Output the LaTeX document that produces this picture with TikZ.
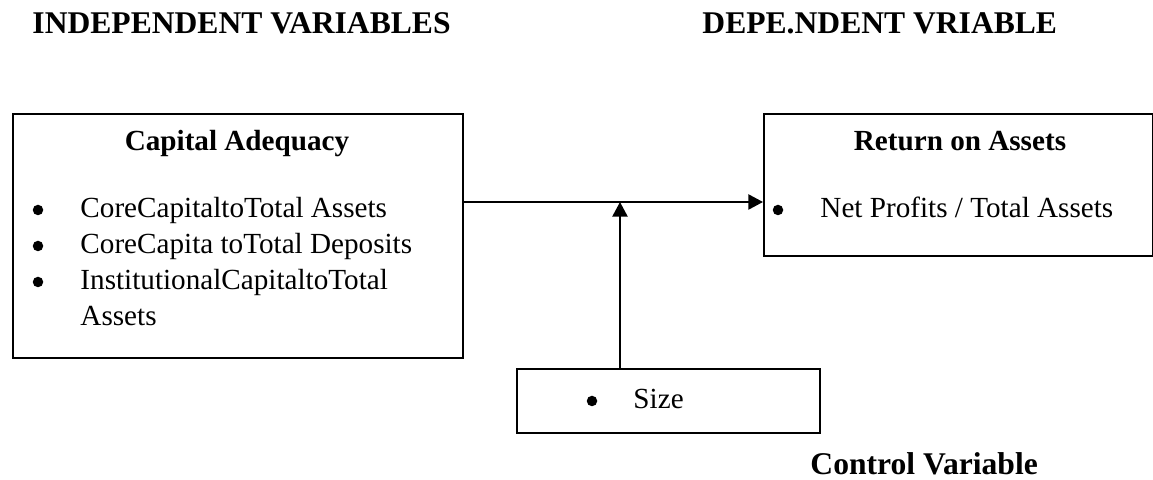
\documentclass[tikz,border=0pt]{standalone}
\usepackage{fontspec}
\setmainfont{Liberation Serif}
\usetikzlibrary{arrows.meta}
\newcommand{\pxu}{0.4115pt}
\tikzset{
  varbox/.style={draw, line width=0.8pt, inner sep=0pt, anchor=north west},
  head/.style={font=\fontsize{13}{15}\selectfont\bfseries, anchor=base west, inner sep=0pt},
  boxtitle/.style={font=\fontsize{12}{14}\selectfont\bfseries, anchor=base, inner sep=0pt},
  item/.style={font=\fontsize{12}{14}\selectfont, anchor=base west, inner sep=0pt},
  dot/.style={circle, fill, inner sep=0pt, minimum size=10.5*\pxu},
  link/.style={line width=0.8pt, -{Triangle[length=6pt, width=6.2pt]}}
}
\begin{document}
\begin{tikzpicture}[x=\pxu, y=-\pxu]
  \useasboundingbox (0,0) rectangle (1153,480);
  % headings
  \node[head] (indep) at (32,34) {INDEPENDENT VARIABLES};
  \node[head] (dep) at (702,34) {DEPE.NDENT VRIABLE};
  \node[head] (ctrl) at (810,475) {Control Variable};
  % boxes
  \node[varbox, minimum width=450*\pxu, minimum height=244*\pxu] (cap) at (12,113) {};
  \node[varbox, minimum width=389*\pxu, minimum height=142*\pxu] (roa) at (763,113) {};
  \node[varbox, minimum width=303*\pxu, minimum height=64*\pxu] (size) at (516,368) {};
  % capital adequacy
  \node[boxtitle] (captitle) at (237,151) {Capital Adequacy};
  \foreach \txt [count=\i] in {CoreCapitaltoTotal Assets, CoreCapita toTotal Deposits, InstitutionalCapitaltoTotal} {
    \node[dot] (b\i) at (38,{174+36*\i}) {};
    \node[item] (c\i) at (80,{182+36*\i}) {\txt};
  }
  \node[item] (c4) at (80,326) {Assets};
  % return on assets
  \node[boxtitle] (roatitle) at (960,151) {Return on Assets};
  \node[dot] (rb) at (778,210) {};
  \node[item] (r1) at (820,218) {Net Profits / Total Assets};
  % size
  \node[dot] (sb) at (592,401) {};
  \node[item] (s1) at (633,409) {Size};
  % arrows
  \coordinate (junc) at (620,202);
  \draw[link] (cap.east |- junc) -- (roa.west |- junc);
  \draw[link] (size.north -| junc) -- (junc);
\end{tikzpicture}
\end{document}
